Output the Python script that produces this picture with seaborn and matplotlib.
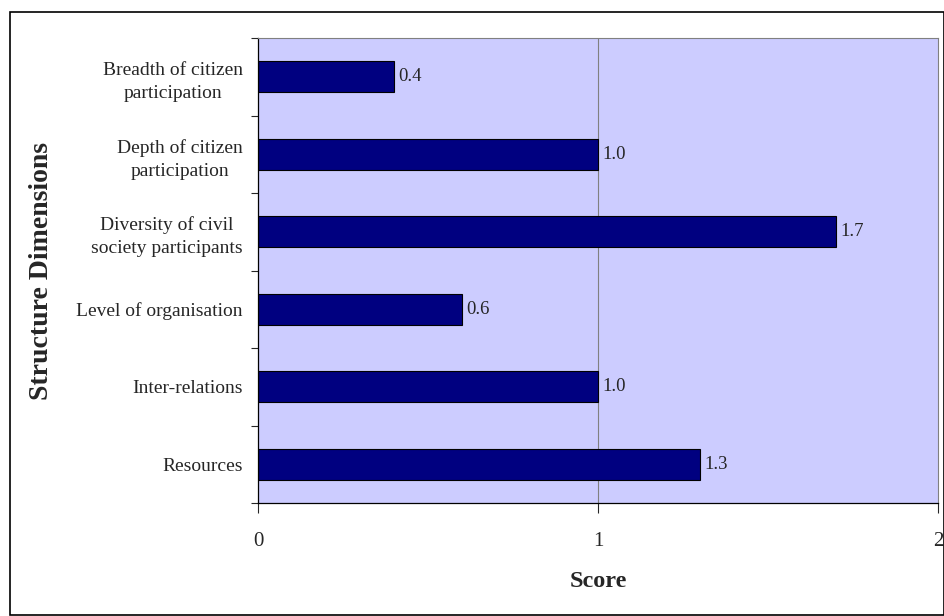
import matplotlib
matplotlib.use("Agg")
import matplotlib.pyplot as plt
import seaborn as sns
import pandas as pd
from matplotlib.patches import Rectangle

dimensions = [
    "Breadth of citizen\nparticipation",
    "Depth of citizen\nparticipation",
    "Diversity of civil\nsociety participants",
    "Level of organisation",
    "Inter-relations",
    "Resources",
]
scores = [0.4, 1.0, 1.7, 0.6, 1.0, 1.3]

sns.set_style("white")
plt.rcParams["font.family"] = ["Liberation Serif", "DejaVu Serif"]

df = pd.DataFrame({"dim": dimensions, "score": scores})

fig = plt.figure(figsize=(9.45, 6.16), dpi=100)
ax = fig.add_axes([258 / 945, 1 - 503 / 616, 680 / 945, 465 / 616])
ax.set_facecolor("#CCCCFF")

sns.barplot(data=df, x="score", y="dim", orient="h", color="#000080",
            saturation=1, width=0.4, edgecolor="black", linewidth=0.8, ax=ax)

for c in ax.containers:
    ax.bar_label(c, fmt="%.1f", padding=3, fontsize=13.5)

ax.set_xlim(0, 2)
ax.set_ylim(5.5, -0.5)
ax.set_xticks([0, 1, 2])
ax.set_xticklabels(["0", "1", "2"], fontsize=15)
ax.tick_params(axis="x", direction="out", length=7, width=0.8, pad=14, bottom=True)
ax.axvline(1, color="#808080", linewidth=0.8, zorder=0)

ax.set_yticks(range(len(dimensions)))
ax.set_yticklabels(dimensions, fontsize=14)
for t in ax.get_yticklabels():
    t.set_multialignment("center")
    t.set_linespacing(1.45)
ax.tick_params(axis="y", which="major", length=0, pad=11)
ax.set_yticks([i - 0.5 for i in range(len(dimensions) + 1)], minor=True)
ax.tick_params(axis="y", which="minor", direction="out", length=5, width=0.8, left=True)

ax.set_xlabel("Score", fontsize=17.5, fontweight="bold", labelpad=14)
ax.set_ylabel("Structure Dimensions", fontsize=20, fontweight="bold", labelpad=16)

for s in ["left", "bottom"]:
    ax.spines[s].set_color("black")
    ax.spines[s].set_linewidth(0.9)
for s in ["top", "right"]:
    ax.spines[s].set_color("#808080")
    ax.spines[s].set_linewidth(0.8)

fig.patches.append(Rectangle((10 / 945, 1 / 616), 934 / 945, 603 / 616,
                             transform=fig.transFigure, fill=False,
                             edgecolor="black", linewidth=1.2))

fig.savefig("out.png", dpi=100)
